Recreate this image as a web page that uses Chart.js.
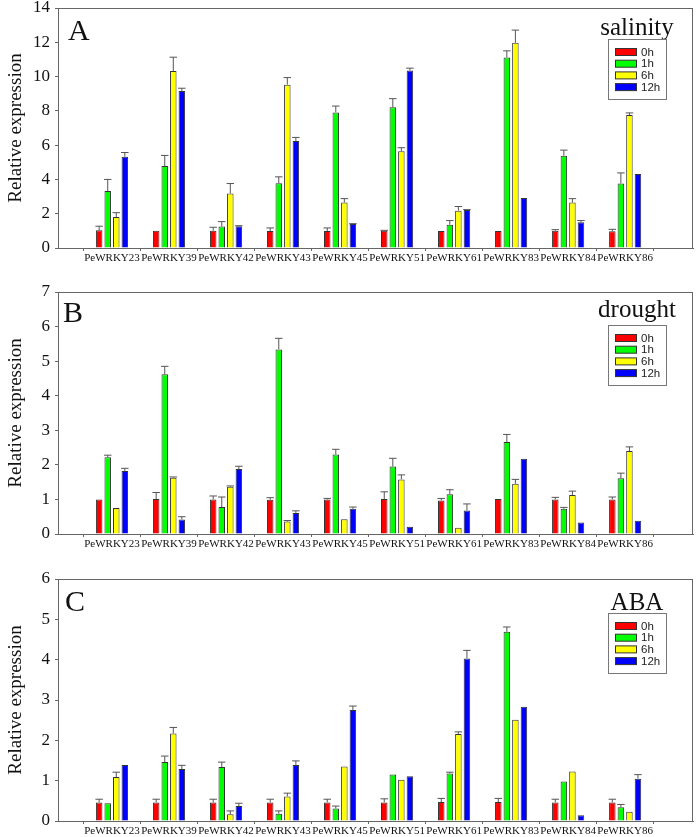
<!DOCTYPE html>
<html>
<head>
<meta charset="utf-8">
<script src="https://cdn.jsdelivr.net/npm/chart.js@4.4.1/dist/chart.umd.min.js"></script>
<style>
  html, body { margin: 0; padding: 0; background: #fff; }
  #wrap { position: relative; width: 697px; height: 837px; overflow: hidden; }
  canvas { position: absolute; left: 0; }
</style>
</head>
<body>
<div id="wrap">
  <canvas id="chartA" width="697" height="280" style="top:-8px"></canvas>
  <canvas id="chartB" width="697" height="280" style="top:276px"></canvas>
  <canvas id="chartC" width="697" height="274" style="top:563px"></canvas>
</div>
<script>
// genes on the x axis
const genes = ['PeWRKY23', 'PeWRKY39', 'PeWRKY42', 'PeWRKY43', 'PeWRKY45',
               'PeWRKY51', 'PeWRKY61', 'PeWRKY83', 'PeWRKY84', 'PeWRKY86'];
const times = ['0h', '1h', '6h', '12h'];
const timeColors = ['#ff0000', '#00ff00', '#ffff00', '#0000ff'];

// A - salinity
const salinity0h  = [1.03, 1.01, 1.01, 0.99, 0.99, 1.01, 0.99, 0.99, 1.01, 0.97];
const salinity1h  = [3.33, 4.78, 1.25, 3.78, 7.91, 8.21, 1.36, 11.11, 5.38, 3.76];
const salinity6h  = [1.81, 10.33, 3.18, 9.53, 2.65, 5.65, 2.18, 11.97, 2.65, 7.76];
const salinity12h = [5.32, 9.16, 1.27, 6.24, 1.40, 10.35, 2.22, 2.92, 1.50, 4.31];
const salinityErr0h  = [0.24, 0, 0.20, 0.18, 0.18, 0.02, 0, 0, 0.06, 0.12];
const salinityErr1h  = [0.67, 0.62, 0.29, 0.37, 0.37, 0.50, 0.24, 0.39, 0.33, 0.62];
const salinityErr6h  = [0.25, 0.80, 0.58, 0.41, 0.23, 0.20, 0.24, 0.74, 0.23, 0.12];
const salinityErr12h = [0.25, 0.16, 0.03, 0.21, 0.02, 0.14, 0.02, 0, 0.10, 0];

// B - drought
const drought0h  = [1.00, 1.01, 1.00, 0.99, 1.00, 1.01, 0.97, 1.01, 1.00, 1.00];
const drought1h  = [2.22, 4.62, 0.78, 5.34, 2.30, 1.95, 1.15, 2.66, 0.73, 1.61];
const drought6h  = [0.75, 1.63, 1.37, 0.36, 0.43, 1.58, 0.18, 1.45, 1.13, 2.40];
const drought12h = [1.82, 0.42, 1.88, 0.61, 0.73, 0.21, 0.68, 2.18, 0.33, 0.38];
const droughtErr0h  = [0, 0.19, 0.10, 0.06, 0.03, 0.21, 0.06, 0, 0.06, 0.07];
const droughtErr1h  = [0.06, 0.23, 0.29, 0.32, 0.15, 0.24, 0.13, 0.22, 0.04, 0.15];
const droughtErr6h  = [0, 0.02, 0.02, 0.03, 0, 0.13, 0, 0.13, 0.11, 0.12];
const droughtErr12h = [0.08, 0.08, 0.08, 0.06, 0.05, 0, 0.19, 0, 0, 0];

// C - ABA
const aba0h  = [0.46, 0.46, 0.46, 0.46, 0.46, 0.46, 0.47, 0.47, 0.46, 0.46];
const aba1h  = [0.44, 1.46, 1.34, 0.18, 0.31, 1.15, 1.18, 4.69, 0.98, 0.34];
const aba6h  = [1.09, 2.17, 0.17, 0.61, 1.35, 1.02, 2.16, 2.51, 1.23, 0.23];
const aba12h = [1.39, 1.29, 0.37, 1.39, 2.75, 1.11, 4.03, 2.83, 0.14, 1.05];
const abaErr0h  = [0.08, 0.08, 0.08, 0.08, 0.08, 0.09, 0.09, 0.09, 0.08, 0.08];
const abaErr1h  = [0, 0.15, 0.12, 0.07, 0.06, 0, 0.03, 0.12, 0, 0.07];
const abaErr6h  = [0.12, 0.15, 0.08, 0.08, 0, 0, 0.05, 0, 0, 0];
const abaErr12h = [0, 0.09, 0.07, 0.10, 0.10, 0, 0.20, 0, 0, 0.10];

const SERIF = '"Liberation Serif", "Times New Roman", serif';
const SANS = '"Liberation Sans", Arial, sans-serif';
const AXIS_GREY = '#666';

// error bars (upper side only), frame, panel letter, treatment title, legend box
const panelDecor = {
    id: 'panelDecor',
    afterDatasetsDraw(chart, args, opts) {
        const ctx = chart.ctx;
        const yScale = chart.scales.y;
        ctx.save();
        ctx.strokeStyle = '#555';
        ctx.lineWidth = 1;
        chart.data.datasets.forEach((ds, di) => {
            const meta = chart.getDatasetMeta(di);
            meta.data.forEach((bar, i) => {
                const err = ds.errors[i];
                if (!err) return;
                const top = yScale.getPixelForValue(ds.data[i].y + err);
                const half = bar.width / 2 + 0.5;
                ctx.beginPath();
                ctx.moveTo(bar.x, bar.y);
                ctx.lineTo(bar.x, top);
                ctx.moveTo(bar.x - half, top);
                ctx.lineTo(bar.x + half, top);
                ctx.stroke();
            });
        });
        ctx.restore();
    },
    afterDraw(chart, args, opts) {
        const ctx = chart.ctx;
        const a = chart.chartArea;
        ctx.save();
        // frame round the plot
        ctx.strokeStyle = AXIS_GREY;
        ctx.lineWidth = 1;
        ctx.strokeRect(a.left + 0.5, a.top + 0.5, a.right - a.left - 1, a.bottom - a.top);

        // panel letter
        ctx.fillStyle = '#111';
        ctx.font = '30px ' + SERIF;
        ctx.textAlign = 'left';
        ctx.textBaseline = 'alphabetic';
        ctx.fillText(opts.letter, opts.letterX, a.top + opts.letterBase);

        // legend box
        const bw = 58, bh = 60;
        const bx = a.right - 27 - bw;
        const by = a.top + opts.legendTop;
        ctx.fillStyle = '#111';
        ctx.font = '25px ' + SERIF;
        ctx.textAlign = 'center';
        ctx.fillText(opts.title, bx + bw / 2, a.top + opts.titleBase);

        ctx.fillStyle = '#fff';
        ctx.fillRect(bx, by, bw, bh);
        ctx.strokeStyle = '#777';
        ctx.strokeRect(bx + 0.5, by + 0.5, bw, bh);

        ctx.font = '11.5px ' + SANS;
        ctx.textAlign = 'left';
        ctx.textBaseline = 'middle';
        chart.data.datasets.forEach((ds, di) => {
            const cy = by + 13 + di * 11.7;
            ctx.fillStyle = ds.backgroundColor;
            ctx.fillRect(bx + 7, cy - 3.5, 21, 7);
            ctx.strokeStyle = '#333';
            ctx.strokeRect(bx + 7.5, cy - 3.5, 21, 7);
            ctx.fillStyle = '#222';
            ctx.fillText(ds.label, bx + 33, cy + 0.5);
        });
        ctx.restore();
    }
};

function makePanel(canvasId, series, errors, yMax, yStep, layoutOpts, decor) {
    const datasets = series.map((vals, k) => ({
        label: times[k],
        data: vals.map((v, i) => ({ x: i + 1, y: v })),
        errors: errors[k],
        backgroundColor: timeColors[k],
        borderColor: '#333',
        borderWidth: 1,
        barPercentage: 0.76,
        categoryPercentage: 0.6
    }));

    return new Chart(document.getElementById(canvasId), {
        type: 'bar',
        data: { datasets: datasets },
        plugins: [panelDecor],
        options: {
            responsive: false,
            animation: false,
            devicePixelRatio: 1,
            layout: { padding: { top: layoutOpts.top, right: 4, left: 0, bottom: 0 } },
            plugins: {
                legend: { display: false },
                tooltip: { enabled: false },
                panelDecor: decor
            },
            scales: {
                x: {
                    type: 'linear',
                    min: 0.053,
                    max: 11.19,
                    offset: false,
                    afterBuildTicks: s => { s.ticks = genes.map((g, i) => ({ value: i + 1 })); },
                    afterFit: s => { s.height = layoutOpts.xHeight; },
                    ticks: {
                        autoSkip: false,
                        maxRotation: 0,
                        padding: 1,
                        color: '#111',
                        font: { family: SERIF, size: 11 },
                        callback: v => genes[v - 1] || ''
                    },
                    grid: { drawOnChartArea: false, drawTicks: true, tickLength: 3, color: AXIS_GREY },
                    border: { color: AXIS_GREY }
                },
                y: {
                    min: 0,
                    max: yMax,
                    afterFit: s => { s.width = 58; },
                    ticks: {
                        stepSize: yStep,
                        padding: 5,
                        color: '#111',
                        font: { family: SERIF, size: 17 }
                    },
                    grid: { drawOnChartArea: false, drawTicks: true, tickLength: 3, color: AXIS_GREY },
                    border: { color: AXIS_GREY },
                    title: {
                        display: true,
                        text: 'Relative expression',
                        color: '#111',
                        padding: { top: 5, bottom: 4 },
                        font: { family: SERIF, size: 19 }
                    }
                }
            }
        }
    });
}

makePanel('chartA',
    [salinity0h, salinity1h, salinity6h, salinity12h],
    [salinityErr0h, salinityErr1h, salinityErr6h, salinityErr12h],
    14, 2, { top: 16, xHeight: 24 },
    { letter: 'A', letterX: 68, letterBase: 32, title: 'salinity', titleBase: 27, legendTop: 31 });

makePanel('chartB',
    [drought0h, drought1h, drought6h, drought12h],
    [droughtErr0h, droughtErr1h, droughtErr6h, droughtErr12h],
    7, 1, { top: 16, xHeight: 22 },
    { letter: 'B', letterX: 63, letterBase: 30, title: 'drought', titleBase: 25, legendTop: 33 });

makePanel('chartC',
    [aba0h, aba1h, aba6h, aba12h],
    [abaErr0h, abaErr1h, abaErr6h, abaErr12h],
    6, 1, { top: 16, xHeight: 16 },
    { letter: 'C', letterX: 65, letterBase: 32, title: 'ABA', titleBase: 31, legendTop: 34 });
</script>
</body>
</html>
